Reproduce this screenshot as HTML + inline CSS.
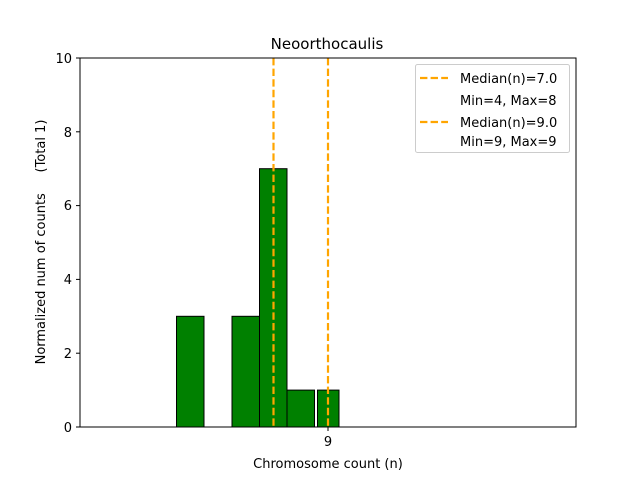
<!DOCTYPE html>
<html><head><style>body{margin:0;background:#fff}svg{display:block}</style></head><body>
<svg width="640" height="480" xmlns="http://www.w3.org/2000/svg" font-family="'DejaVu Sans', 'Liberation Sans', sans-serif">
<rect width="640" height="480" fill="#fff"/>
<line x1="80" y1="427" x2="396" y2="427" stroke="#000" stroke-width="1"/>
<g fill="#008000" stroke="#000" stroke-width="1">
<rect x="176.5" y="316.3" width="27.5" height="110.7"/>
<rect x="232" y="316.3" width="27.5" height="110.7"/>
<rect x="259.5" y="168.7" width="27.5" height="258.3"/>
<rect x="287" y="390.1" width="27.5" height="36.9"/>
<rect x="317.5" y="390.1" width="21.5" height="36.9"/>
</g>
<g stroke="#FFA500" stroke-width="2.2" stroke-dasharray="7.4,3.2">
<line x1="273.5" y1="58" x2="273.5" y2="427"/>
<line x1="328" y1="58" x2="328" y2="427"/>
</g>
<rect x="80" y="58" width="496" height="369" fill="none" stroke="#000" stroke-width="1"/>
<g font-size="13" fill="#000">
<g stroke="#000"><line x1="76" y1="427" x2="80" y2="427"/><line x1="76" y1="353.2" x2="80" y2="353.2"/><line x1="76" y1="279.4" x2="80" y2="279.4"/><line x1="76" y1="205.6" x2="80" y2="205.6"/><line x1="76" y1="131.8" x2="80" y2="131.8"/><line x1="76" y1="58" x2="80" y2="58"/><line x1="328" y1="427" x2="328" y2="431"/></g>
<g text-anchor="end"><text x="72" y="432">0</text><text x="72" y="358">2</text><text x="72" y="284">4</text><text x="72" y="210">6</text><text x="72" y="137">8</text><text x="72" y="63">10</text></g>
<text x="328" y="446" text-anchor="middle">9</text>
<text x="328" y="468" text-anchor="middle">Chromosome count (n)</text>
<text x="327" y="49" text-anchor="middle" font-size="15">Neoorthocaulis</text>
<text transform="translate(45,242) rotate(-90)" text-anchor="middle" style="white-space:pre" xml:space="preserve">Normalized num of counts     (Total 1)</text>
</g>
<rect x="415.5" y="64.5" width="154" height="88" rx="2" fill="#fff" fill-opacity="0.8" stroke="#ccc"/>
<g stroke="#FFA500" stroke-width="2.2" stroke-dasharray="7.4,3.2"><line x1="420" y1="78" x2="448" y2="78"/><line x1="420" y1="122" x2="448" y2="122"/></g>
<g font-size="13" fill="#000">
<text x="460" y="83">Median(n)=7.0</text>
<text x="460" y="105">Min=4, Max=8</text>
<text x="460" y="127">Median(n)=9.0</text>
<text x="460" y="146">Min=9, Max=9</text>
</g>
</svg>
</body></html>
